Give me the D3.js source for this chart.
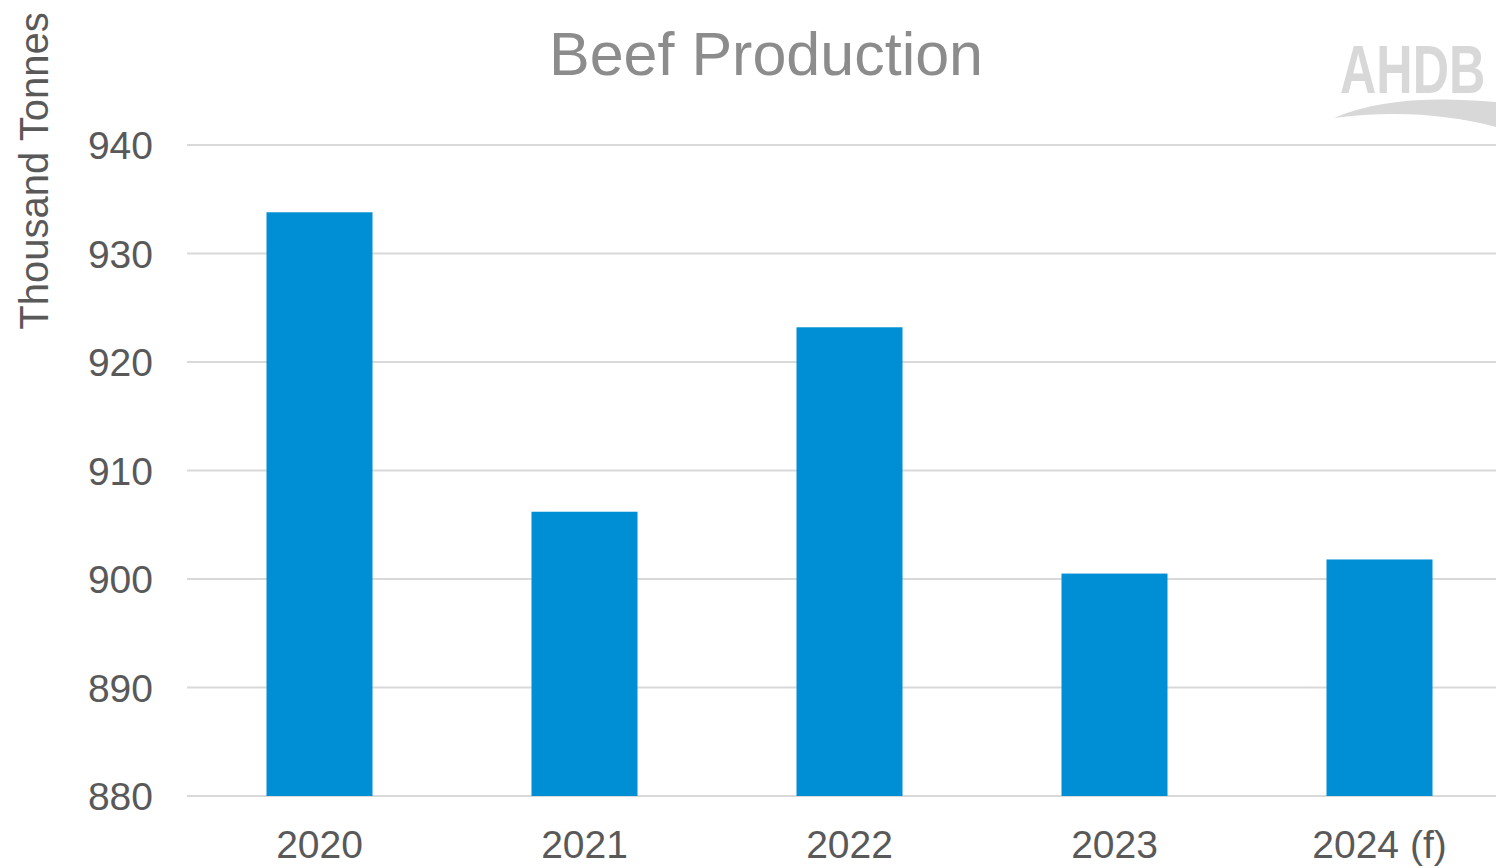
<!DOCTYPE html>
<html><head><meta charset="utf-8">
<script src="https://cdn.jsdelivr.net/npm/d3@7"></script>
<style>html,body{margin:0;padding:0;background:#fff;overflow:hidden}</style>
</head><body>
<svg id="c" width="1496" height="868"></svg>
<script>
const categories = ["2020","2021","2022","2023","2024 (f)"];
const values = [933.8, 906.2, 923.2, 900.5, 901.8];
const yTicks = [880, 890, 900, 910, 920, 930, 940];
const title = "Beef Production";
const yTitle = "Thousand Tonnes";

const svg = d3.select("#c");
const font = "'Liberation Sans', Arial, sans-serif";
const x = d3.scaleBand().domain(categories).range([187, 1512]).paddingInner(0.6).paddingOuter(0.3);
const y = d3.scaleLinear().domain([880, 940]).range([796, 145]);

// gridlines
svg.append("g").selectAll("line").data(yTicks).join("line")
  .attr("x1", 187).attr("x2", 1512)
  .attr("y1", d => y(d)).attr("y2", d => y(d))
  .attr("stroke", "#d9d9d9").attr("stroke-width", 2);

// bars
svg.append("g").selectAll("rect").data(values).join("rect")
  .attr("x", (d,i) => x(categories[i]))
  .attr("width", x.bandwidth())
  .attr("y", d => y(d))
  .attr("height", d => y(880) - y(d))
  .attr("fill", "#008fd5");

// y axis labels
const yAxis = d3.axisLeft(y).tickValues(yTicks).tickSize(0).tickPadding(0);
const ya = svg.append("g").attr("transform", "translate(153,0)").call(yAxis);
ya.select(".domain").remove();
ya.selectAll("text").attr("font-family", font).attr("font-size", 39).attr("fill", "#595959").attr("dy", "0.35em");

// x axis labels
const xAxis = d3.axisBottom(x).tickSize(0).tickPadding(0);
const xa = svg.append("g").attr("transform", "translate(0,830)").call(xAxis);
xa.select(".domain").remove();
xa.selectAll("text").attr("font-family", font).attr("font-size", 39).attr("fill", "#595959").attr("dy", "0.71em");

// title
svg.append("text").attr("x", 766).attr("y", 75).attr("text-anchor", "middle")
  .attr("font-family", font).attr("font-size", 61).attr("fill", "#8c8c8c").text(title);

// y title
svg.append("text").attr("transform", "translate(48,171) rotate(-90)").attr("text-anchor", "middle")
  .attr("font-family", font).attr("font-size", 40).attr("fill", "#595959").text(yTitle);

// AHDB logo (decorative)
svg.append("text").attr("transform", "translate(1340,93) scale(0.74,1)")
  .attr("font-family", font).attr("font-weight", "bold").attr("font-size", 68)
  .attr("fill", "#d8d8d8").text("AHDB");
svg.append("path")
  .attr("d", "M1334,118 C1375,100 1430,96 1496,102 L1496,127 C1450,114 1390,110 1334,118 Z")
  .attr("fill", "#d8d8d8");
</script>
</body></html>
